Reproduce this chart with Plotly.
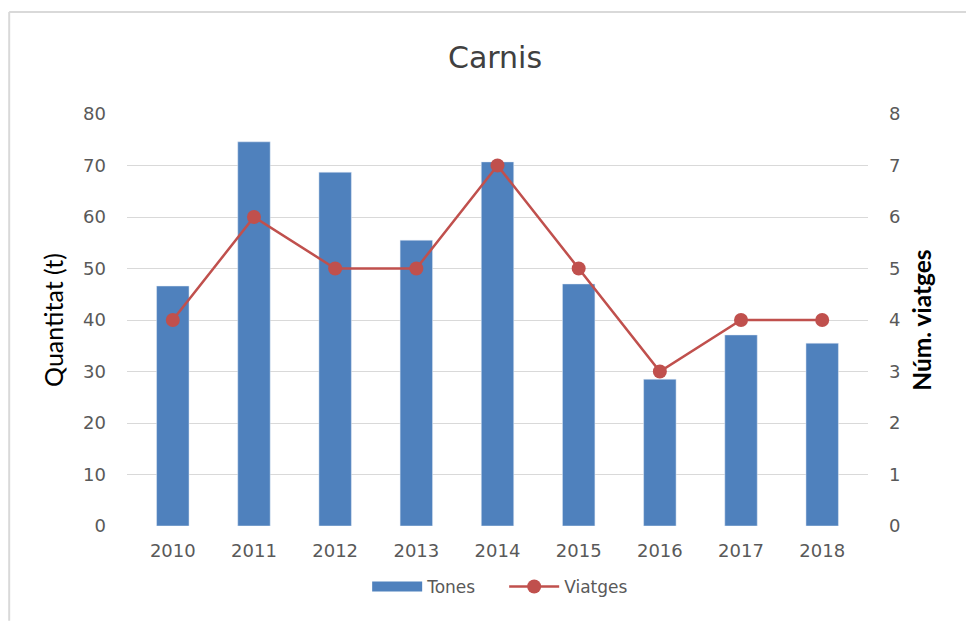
import plotly.graph_objects as go

years = ['2010', '2011', '2012', '2013', '2014', '2015', '2016', '2017', '2018']
tones = [46.6, 74.6, 68.7, 55.5, 70.7, 47.0, 28.5, 37.1, 35.5]
viatges = [4, 6, 5, 5, 7, 5, 3, 4, 4]

FONT = 'DejaVu Sans'
BLUE = '#4F81BD'
RED = '#C0504D'

fig = go.Figure()

fig.add_trace(go.Bar(
    x=years, y=tones, name='Tones',
    marker_color=BLUE,
    showlegend=False,
    yaxis='y'
))

# legend entry with a wide swatch like Excel's
fig.add_trace(go.Scatter(
    x=[None], y=[None], name='Tones',
    mode='lines', line=dict(color=BLUE, width=10),
    yaxis='y'
))

fig.add_trace(go.Scatter(
    x=years, y=viatges, name='Viatges',
    mode='lines+markers',
    line=dict(color=RED, width=2.5),
    marker=dict(color=RED, size=14),
    yaxis='y2'
))

# page body has an 8px offset, so margins are shifted to compensate
fig.update_layout(
    width=974,
    height=621,
    margin=dict(l=119, r=114, t=106, b=103),
    plot_bgcolor='white',
    paper_bgcolor='white',
    font=dict(family=FONT, size=16, color='#595959'),
    bargap=0.6,
    title=dict(text='Carnis', x=0.5, xanchor='center', y=0.921, yanchor='middle',
               font=dict(family=FONT, size=30, color='#404040')),
    xaxis=dict(showgrid=False, ticks='', showline=False, ticklabelstandoff=12,
               tickfont=dict(size=18, color='#595959')),
    yaxis=dict(range=[0, 80], dtick=10, gridcolor='#D9D9D9', gridwidth=1,
               zeroline=False, ticks='', ticklabelstandoff=20,
               tickfont=dict(size=18, color='#595959'),
               title=dict(text='Quantitat (t)', standoff=12,
                          font=dict(family='Lato', size=25, color='black'))),
    yaxis2=dict(range=[0, 8], dtick=1, overlaying='y', side='right',
                showgrid=False, zeroline=False, ticks='', ticklabelstandoff=20,
                tickfont=dict(size=18, color='#595959'),
                title=dict(text='<b>Núm. viatges</b>', standoff=14,
                           font=dict(family='Lato', size=24.5, color='black'))),
    legend=dict(orientation='h', x=0.509, xanchor='center', y=-0.148, yanchor='middle',
                font=dict(size=17, color='#595959'), traceorder='normal',
                itemwidth=50, entrywidth=72, entrywidthmode='pixels'),
    shapes=[
        dict(type='line', xref='paper', yref='paper', x0=-0.159, x1=1.2,
             y0=1.2476, y1=1.2476, line=dict(color='#D9D9D9', width=2)),
        dict(type='line', xref='paper', yref='paper', x0=-0.159, x1=-0.159,
             y0=1.2476, y1=-0.23, line=dict(color='#D9D9D9', width=2)),
    ]
)

fig.write_html("out.html")
